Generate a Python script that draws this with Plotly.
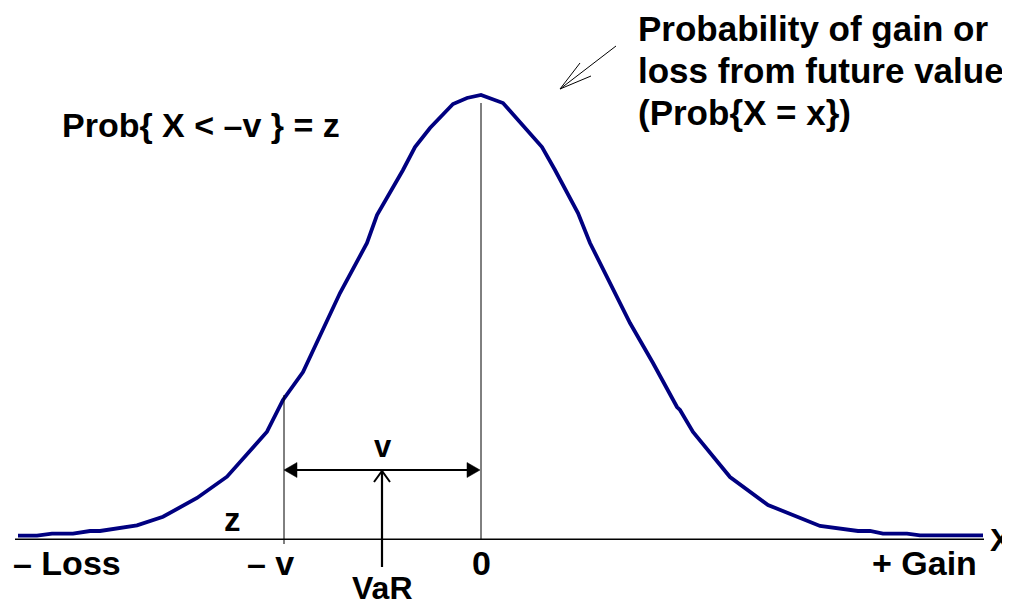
import plotly.graph_objects as go

# Curve values (x: offset from the mean, y: height above the axis)
curve_x = [-463, -444, -429, -408, -391, -381, -344, -318, -284, -254, -214, -198,
           -178, -141, -114, -104, -78, -66, -51, -28, -14, 0, 22, 61, 74, 97,
           109, 136, 149, 172, 196, 199, 212, 249, 287, 339, 377, 389, 402, 426,
           439, 502]
curve_y = [4.3, 4.3, 6.3, 6.3, 9, 9, 14.7, 23.3, 42, 63.3, 108.3, 140,
           168, 247, 297, 325, 370, 393, 412, 436, 442, 445, 437, 393, 370, 327,
           297, 243, 217, 177, 133, 130, 108, 63, 35, 14, 9, 9, 6.3, 6.3,
           4.7, 4.7]

# Axis labels
tick_text = ["\u2013 Loss", "\u2013 v", "0", "+ Gain"]
tick_pos = [-414, -211, 0, 443]

title_lines = ["Probability of gain or", "loss from future value", "(Prob{X = x})"]
title_line_y = [512, 470, 428]

V_POS = -197      # position of -v
VAR_POS = -99     # VaR arrow position
PEAK = 445

FONT = "Liberation Sans, Arial, sans-serif"
BLACK = "#000000"

fig = go.Figure()
fig.add_trace(go.Scatter(x=curve_x, y=curve_y, mode="lines",
                         line=dict(color="#000080", width=3.8),
                         hoverinfo="skip", showlegend=False))

shapes = []
# x axis line
shapes.append(dict(type="line", x0=-466, x1=503, y0=0.7, y1=0.7,
                   line=dict(color=BLACK, width=1.6)))
# vertical line at 0
shapes.append(dict(type="line", x0=0, x1=0, y0=0, y1=PEAK - 8,
                   line=dict(color=BLACK, width=1)))
# vertical line at -v
shapes.append(dict(type="line", x0=V_POS, x1=V_POS, y0=-4, y1=145,
                   line=dict(color=BLACK, width=1)))
# double arrow between -v and 0
ya = 70
shapes.append(dict(type="line", x0=V_POS + 8, x1=-8, y0=ya, y1=ya,
                   line=dict(color=BLACK, width=2.2)))
shapes.append(dict(type="path",
                   path=f"M {V_POS},{ya} L {V_POS + 13},{ya + 7.5} L {V_POS + 13},{ya - 7.5} Z",
                   fillcolor=BLACK, line=dict(color=BLACK, width=0.5)))
shapes.append(dict(type="path",
                   path=f"M -1,{ya} L -14,{ya + 7.5} L -14,{ya - 7.5} Z",
                   fillcolor=BLACK, line=dict(color=BLACK, width=0.5)))
# VaR arrow (open head)
shapes.append(dict(type="line", x0=VAR_POS, x1=VAR_POS, y0=-27, y1=ya - 1,
                   line=dict(color=BLACK, width=2.2)))
shapes.append(dict(type="path",
                   path=f"M {VAR_POS - 8},{ya - 12} L {VAR_POS},{ya - 1} L {VAR_POS + 8},{ya - 12}",
                   line=dict(color=BLACK, width=2)))
# thin pointer arrow near the title text
shapes.append(dict(type="line", x0=135, x1=79, y0=494, y1=451,
                   line=dict(color=BLACK, width=1)))
shapes.append(dict(type="path",
                   path="M 99,477 L 79,451 L 110,464",
                   line=dict(color=BLACK, width=1)))

annotations = []
for t, p in zip(tick_text, tick_pos):
    annotations.append(dict(x=p, y=-23, text=f"<b>{t}</b>", showarrow=False,
                            xanchor="center", yanchor="middle",
                            font=dict(family=FONT, size=34, color=BLACK)))
for t, yy in zip(title_lines, title_line_y):
    annotations.append(dict(x=155, y=yy, text=f"<b>{t}</b>", showarrow=False,
                            xanchor="left", yanchor="middle",
                            font=dict(family=FONT, size=35, color=BLACK)))
annotations += [
    dict(x=507, y=0, text="<b>X</b>", showarrow=False, xanchor="left", yanchor="middle",
         font=dict(family=FONT, size=32, color=BLACK)),
    dict(x=VAR_POS, y=-48, text="<b>VaR</b>", showarrow=False, xanchor="center",
         yanchor="middle", font=dict(family=FONT, size=32, color=BLACK)),
    dict(x=VAR_POS + 1, y=94, text="<b>v</b>", showarrow=False, xanchor="center",
         yanchor="middle", font=dict(family=FONT, size=31, color=BLACK)),
    dict(x=-249, y=21, text="<b>z</b>", showarrow=False, xanchor="center",
         yanchor="middle", font=dict(family=FONT, size=33, color=BLACK)),
    dict(x=-421, y=415, text="<b>Prob{ X &lt; \u2013v } = z</b>", showarrow=False,
         xanchor="left", yanchor="middle",
         font=dict(family=FONT, size=34, color=BLACK)),
]

fig.update_layout(
    width=1002, height=594,
    margin=dict(l=0, r=0, t=0, b=0),
    paper_bgcolor="white", plot_bgcolor="white",
    xaxis=dict(range=[-473, 529], visible=False, fixedrange=True),
    yaxis=dict(range=[-62, 532], visible=False, fixedrange=True),
    shapes=shapes, annotations=annotations, showlegend=False,
)

fig.write_html("out.html")
